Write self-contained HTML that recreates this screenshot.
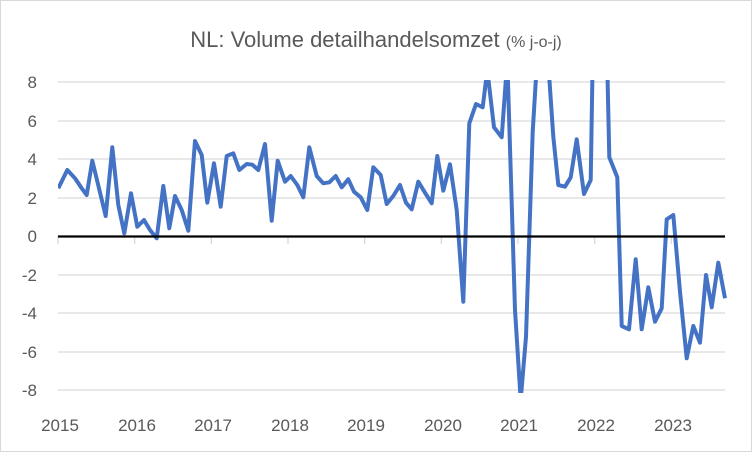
<!DOCTYPE html>
<html><head><meta charset="utf-8"><style>
body{margin:0;background:#fff}
svg{display:block}
text{font-family:"Liberation Sans",sans-serif;fill:#595959}
</style></head><body>
<svg width="752" height="452" viewBox="0 0 752 452">
<rect x="0.5" y="0.5" width="751" height="451" fill="#fff" stroke="#d9d9d9"/>
<text x="376" y="47" text-anchor="middle" font-size="22">NL: Volume detailhandelsomzet <tspan font-size="16">(% j-o-j)</tspan></text>
<defs><clipPath id="c"><rect x="58" y="80" width="670" height="313"/></clipPath></defs>
<g stroke="#d9d9d9" stroke-width="1.3">
<line x1="58" x2="725" y1="82" y2="82"/><line x1="58" x2="725" y1="121" y2="121"/>
<line x1="58" x2="725" y1="159" y2="159"/><line x1="58" x2="725" y1="198" y2="198"/>
<line x1="58" x2="725" y1="275" y2="275"/><line x1="58" x2="725" y1="313" y2="313"/>
<line x1="58" x2="725" y1="352" y2="352"/><line x1="58" x2="725" y1="390" y2="390"/>
<line x1="58" x2="58" y1="236" y2="244"/><line x1="134.7" x2="134.7" y1="236" y2="244"/>
<line x1="211.3" x2="211.3" y1="236" y2="244"/><line x1="288" x2="288" y1="236" y2="244"/>
<line x1="364.7" x2="364.7" y1="236" y2="244"/><line x1="441.3" x2="441.3" y1="236" y2="244"/>
<line x1="518" x2="518" y1="236" y2="244"/><line x1="594.7" x2="594.7" y1="236" y2="244"/>
<line x1="671.3" x2="671.3" y1="236" y2="244"/>
</g>
<g font-size="17" text-anchor="end">
<text x="37" y="88">8</text><text x="37" y="127">6</text><text x="37" y="165">4</text>
<text x="37" y="204">2</text><text x="37" y="242">0</text><text x="37" y="281">-2</text>
<text x="37" y="319">-4</text><text x="37" y="358">-6</text><text x="37" y="396">-8</text>
</g>
<g font-size="17" text-anchor="middle">
<text x="60" y="431">2015</text><text x="137" y="431">2016</text><text x="213" y="431">2017</text>
<text x="290" y="431">2018</text><text x="366" y="431">2019</text><text x="443" y="431">2020</text>
<text x="519" y="431">2021</text><text x="596" y="431">2022</text><text x="673" y="431">2023</text>
</g>
<g clip-path="url(#c)">
<polyline fill="none" stroke="#4472c4" stroke-width="4" stroke-linejoin="round" points="58.3,188.3 67.3,170 75,178.3 81.7,188.3 86.7,195 92.3,160.7 99,188.3 105.7,216 112.3,147.3 118.3,205 124.3,233.3 131,193.3 137.3,226.7 144,220 150,230 156.7,238.3 163.3,186 169.3,228.3 175,196 181.7,210 188.3,230.7 195,141 201.7,155 207.3,202.7 214,163.3 220.7,206.7 226.7,156 233.3,153.3 239.3,170 246.7,164 252.3,164.7 258.3,170 265,144 271.7,220.7 277.7,160.7 285,181.7 290.7,176 297.3,185 303.3,197.3 309.3,147.3 316.7,176 323.3,183.3 329.3,182.3 335.7,176 341.7,187.3 348.3,179.3 354,191.7 360.7,197.3 367.3,210 373.3,167.3 380.7,175 386.7,204 393.3,196 400,185 406,202.7 411.7,209.3 418.3,181.7 425,192.7 431.7,203.3 437.3,156 443.3,190.7 450,164.3 456.7,210 463.3,301.7 469.3,123.3 476,104 482.7,107.3 487.3,70 494,127.3 501.7,137.3 507.3,60 515,310 520.7,400 526,336.7 532.7,131.7 538.3,40 546.7,40 553.3,136.7 558.3,185 565,186.7 570.7,177.3 576.7,139.3 584,194 590.7,180 593,40 606.7,40 609.3,157.3 617.3,177.3 621.7,326 629,329.3 635.7,259.3 641.7,329.3 648.3,287.3 655,321.7 661.7,308.3 666.7,219.3 673.3,215 680,291.7 686.7,358.3 693.3,326 700,342.7 706,275 711.7,307.3 718.3,262.7 725,298.3"/>
</g>
<line x1="58" x2="725" y1="236.5" y2="236.5" stroke="#000" stroke-width="2.2"/>
</svg>
</body></html>
